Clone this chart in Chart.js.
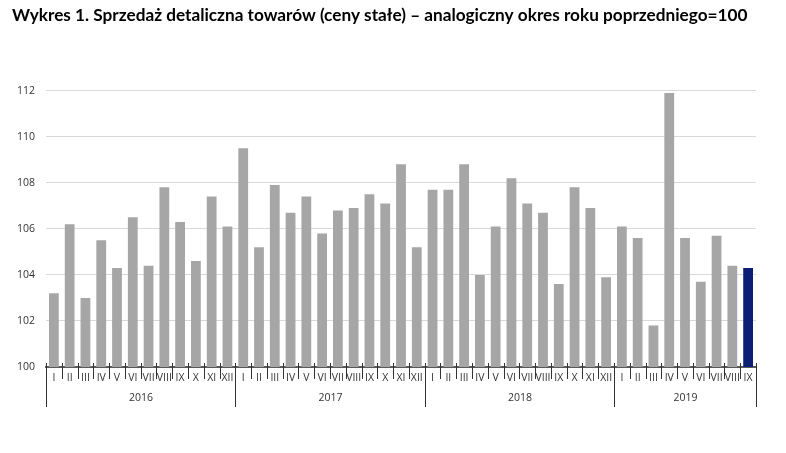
<!DOCTYPE html>
<html lang="pl">
<head>
<meta charset="utf-8">
<title>Wykres 1</title>
<script src="https://cdn.jsdelivr.net/npm/chart.js@4.4.1/dist/chart.umd.min.js"></script>
<style>
    html, body { margin: 0; padding: 0; background: #fff; }
    #wrap { position: relative; width: 786px; height: 453px; }
</style>
</head>
<body>
<div id="wrap"><canvas id="sales-chart"></canvas></div>
<script>
// Data
const monthNames = ['I', 'II', 'III', 'IV', 'V', 'VI', 'VII', 'VIII', 'IX', 'X', 'XI', 'XII'];
const years = ['2016', '2017', '2018', '2019'];
const monthsPerYear = [12, 12, 12, 9];
const values = [
    103.2, 106.2, 103.0, 105.5, 104.3, 106.5, 104.4, 107.8, 106.3, 104.6, 107.4, 106.1,
    109.5, 105.2, 107.9, 106.7, 107.4, 105.8, 106.8, 106.9, 107.5, 107.1, 108.8, 105.2,
    107.7, 107.7, 108.8, 104.0, 106.1, 108.2, 107.1, 106.7, 103.6, 107.8, 106.9, 103.9,
    106.1, 105.6, 101.8, 111.9, 105.6, 103.7, 105.7, 104.4, 104.3
];
const yTicks = [100, 102, 104, 106, 108, 110, 112];

const categories = [];
monthsPerYear.forEach(n => {
    for (let i = 0; i < n; i++) categories.push(monthNames[i]);
});

// Colours
const barGray = '#a6a6a6';
const barNavy = '#0c1f74';
const textColor = '#333333';
const axisFont = { family: '"Open Sans", sans-serif', size: 10.5 };


// Month separators, year lines and year labels under the axis
const yearAxisPlugin = {
    id: 'yearAxis',
    afterDraw: chart => {
        const xs = chart.scales.x;
        const ctx = chart.ctx;
        const axisY = chart.chartArea.bottom;
        const half = (xs.getPixelForValue(1) - xs.getPixelForValue(0)) / 2;
        const edge = i => Math.round(xs.getPixelForValue(i) - half) + 0.5;

        const yearStarts = [0];
        monthsPerYear.forEach(n => yearStarts.push(yearStarts[yearStarts.length - 1] + n));

        ctx.save();
        ctx.strokeStyle = textColor;
        ctx.lineWidth = 1;
        for (let i = 0; i <= categories.length; i++) {
            const isYear = yearStarts.includes(i);
            ctx.beginPath();
            ctx.moveTo(edge(i), axisY - 4);
            ctx.lineTo(edge(i), axisY + (isYear ? 40 : 12));
            ctx.stroke();
        }

        ctx.fillStyle = textColor;
        ctx.font = `${axisFont.size}px ${axisFont.family}`;
        ctx.textAlign = 'center';
        ctx.textBaseline = 'middle';
        years.forEach((y, k) => {
            const mid = (edge(yearStarts[k]) + edge(yearStarts[k + 1])) / 2;
            ctx.fillText(y, mid, axisY + 31);
        });
        ctx.restore();
    }
};


const ctx = document.getElementById('sales-chart');
const salesChart = new Chart(ctx, {
    type: 'bar',
    data: {
        labels: categories,
        datasets: [{
            label: 'Sprzedaż detaliczna',
            data: values,
            backgroundColor: values.map((v, i) => i === values.length - 1 ? barNavy : barGray),
            borderWidth: 0,
            barPercentage: 0.62,
            categoryPercentage: 1
        }]
    },
    options: {
        responsive: true,
        maintainAspectRatio: false,
        animation: false,
        layout: {
            padding: { left: 12, right: 30, top: 0, bottom: 0 }
        },
        scales: {
            x: {
                grid: { display: false, drawTicks: false },
                border: { display: true, color: '#595959', width: 2 },
                ticks: {
                    color: textColor,
                    font: axisFont,
                    padding: 5,
                    autoSkip: false,
                    maxRotation: 0,
                    minRotation: 0
                },
                afterFit: scale => { scale.height = 86; }
            },
            y: {
                min: 100,
                max: 112,
                grid: { color: '#d9d9d9', lineWidth: 1, drawTicks: false },
                border: { display: false },
                ticks: {
                    color: textColor,
                    font: axisFont,
                    padding: 11,
                    stepSize: 2
                },
                afterBuildTicks: scale => {
                    scale.ticks = yTicks.map(v => ({ value: v }));
                },
                afterFit: scale => { scale.width = 34; }
            }
        },
        plugins: {
            legend: { display: false },
            tooltip: { enabled: false },
            title: {
                display: true,
                text: 'Wykres 1. Sprzedaż detaliczna towarów (ceny stałe) – analogiczny okres roku poprzedniego=100',
                align: 'start',
                color: '#000',
                font: { family: 'Lato, sans-serif', size: 17.2, weight: 'bold' },
                padding: { top: 5, bottom: 65 }
            }
        }
    },
    plugins: [yearAxisPlugin]
});
</script>
</body>
</html>
